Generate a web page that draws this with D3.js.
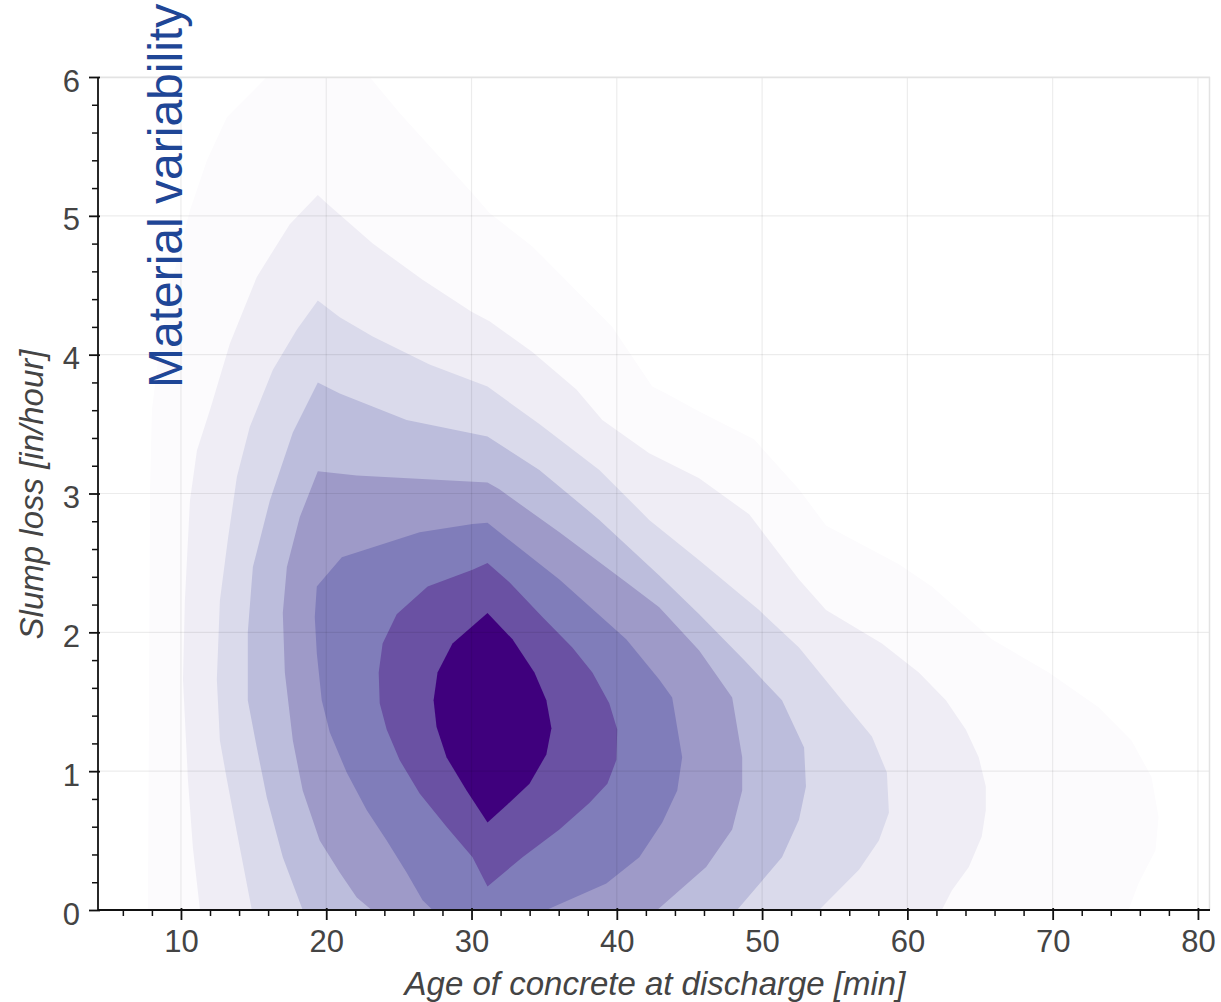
<!DOCTYPE html>
<html>
<head>
<meta charset="utf-8">
<script src="https://cdn.jsdelivr.net/npm/d3@7"></script>
<style>
  html, body { margin: 0; padding: 0; background: #fff; }
  svg { display: block; font-family: "Liberation Sans", Arial, Helvetica, sans-serif; }
</style>
</head>
<body>
<svg id="chart" width="1221" height="1002"></svg>
<script>
// ---------- data ----------
const xDomain = [4.29, 80.83];
const yDomain = [0, 6];
const xTicks = [10, 20, 30, 40, 50, 60, 70, 80];
const yTicks = [0, 1, 2, 3, 4, 5, 6];
const xMinorTicks = [6, 8, 12, 14, 16, 18, 22, 24, 26, 28, 32, 34, 36, 38, 42, 44, 46, 48, 52, 54, 56, 58, 62, 64, 66, 68, 72, 74, 76, 78];
const yMinorTicks = [0.2, 0.4, 0.6, 0.8, 1.2, 1.4, 1.6, 1.8, 2.2, 2.4, 2.6, 2.8, 3.2, 3.4, 3.6, 3.8, 4.2, 4.4, 4.6, 4.8, 5.2, 5.4, 5.6, 5.8];
const xLabel = "Age of concrete at discharge [min]";
const yLabel = "Slump loss [in/hour]";
const annotationText = "Material variability";
const annotationPos = [10.1, 3.76];
const levelColors = ["#fcfbfd", "#efedf5", "#dadaeb", "#bcbddc", "#9e9ac8", "#807dba", "#6a51a3", "#3f007d"];

// filled contour outlines, outermost (lowest density) first, in data units
const contourLevel1 = [[7.73,0],[7.87,3.0],[8.0,3.6],[8.56,4.08],[9.45,4.56],[10.62,5.04],[11.79,5.40],[13.16,5.71],[15.91,6.0],[17.5,6.2],[21.5,6.2],[22.99,6.0],[25.05,5.74],[30.0,5.17],[31.24,5.02],[34.19,4.78],[39.69,4.20],[42.44,3.77],[43.40,3.72],[45.67,3.59],[49.45,3.39],[52.54,3.03],[54.40,2.77],[59.42,2.49],[61.68,2.33],[65.81,1.95],[69.73,1.71],[73.16,1.46],[75.43,1.22],[76.80,0.96],[77.29,0.67],[77.08,0.43],[75.91,0.19],[75.22,0]];
const contourLevel2 = [[11.31,0],[10.82,0.45],[10.48,0.94],[10.14,1.66],[10.27,2.23],[10.62,2.95],[11.10,3.31],[11.99,3.60],[13.37,4.08],[15.22,4.56],[17.49,4.94],[19.42,5.15],[20.03,5.09],[23.20,4.80],[26.63,4.54],[30.0,4.31],[31.24,4.24],[34.19,4.02],[37.22,3.75],[39.0,3.53],[42.23,3.29],[45.67,3.11],[49.11,2.85],[52.54,2.38],[54.40,2.16],[58.25,1.92],[60.79,1.71],[62.65,1.51],[64.02,1.30],[64.91,1.10],[65.40,0.89],[65.40,0.72],[65.12,0.53],[64.23,0.31],[63.06,0.14],[62.37,0]];
const contourLevel3 = [[14.88,0],[14.05,0.45],[13.16,0.94],[12.68,1.22],[12.47,1.66],[12.68,2.23],[13.23,2.67],[13.85,3.12],[14.74,3.48],[16.32,3.89],[17.97,4.18],[19.42,4.39],[20.93,4.27],[23.20,4.13],[27.11,3.93],[31.10,3.77],[34.67,3.50],[38.80,3.17],[42.23,2.81],[45.67,2.52],[49.79,2.16],[52.54,1.89],[55.50,1.51],[57.56,1.25],[58.59,0.99],[58.73,0.70],[58.04,0.50],[56.67,0.29],[53.92,0]];
const contourLevel4 = [[18.38,0],[17.01,0.38],[15.91,0.81],[15.22,1.17],[14.60,1.51],[14.60,2.0],[14.95,2.47],[16.12,2.95],[17.70,3.44],[19.42,3.80],[20.93,3.72],[25.53,3.53],[31.10,3.41],[34.67,3.17],[38.80,2.81],[42.92,2.41],[45.67,2.13],[48.76,1.80],[51.37,1.51],[52.89,1.17],[53.02,0.89],[52.54,0.65],[51.37,0.38],[48.28,0]];
const contourLevel5 = [[23.13,0],[22.10,0.09],[20.93,0.27],[19.55,0.50],[18.38,0.86],[17.70,1.22],[17.15,1.71],[17.01,2.14],[17.29,2.47],[18.18,2.83],[19.42,3.16],[22.10,3.13],[31.10,3.08],[31.92,3.03],[36.05,2.72],[40.65,2.36],[42.92,2.18],[45.67,1.87],[47.94,1.53],[48.63,1.10],[48.63,0.86],[47.94,0.58],[46.15,0.31],[42.78,0]];
const contourLevel6 = [[27.32,0],[26.63,0.07],[25.53,0.27],[24.16,0.50],[22.78,0.72],[21.41,0.99],[20.24,1.28],[19.69,1.51],[19.35,1.85],[19.21,2.11],[19.35,2.33],[21.07,2.54],[26.43,2.72],[30.07,2.78],[31.10,2.79],[31.92,2.72],[36.05,2.38],[40.65,1.95],[42.92,1.66],[43.81,1.53],[44.50,1.10],[44.16,0.86],[43.13,0.63],[41.55,0.38],[39.28,0.19],[35.15,0]];
const contourLevel7 = [[31.10,2.50],[30.07,2.45],[26.98,2.33],[24.85,2.13],[23.88,1.92],[23.61,1.71],[23.68,1.49],[24.16,1.30],[25.05,1.08],[26.43,0.84],[28.28,0.60],[30.07,0.38],[31.10,0.17],[33.51,0.38],[36.05,0.58],[38.11,0.77],[39.35,0.91],[39.97,1.08],[40.03,1.30],[39.48,1.49],[38.32,1.71],[36.94,1.89],[34.88,2.11],[32.61,2.36]];
const contourLevel8 = [[31.10,2.14],[28.69,1.92],[27.66,1.71],[27.39,1.51],[27.59,1.32],[28.28,1.10],[29.66,0.86],[31.10,0.63],[32.47,0.76],[33.99,0.91],[35.15,1.12],[35.50,1.31],[35.15,1.51],[34.33,1.71],[32.82,1.95]];

const contourLevels = [contourLevel1, contourLevel2, contourLevel3, contourLevel4, contourLevel5, contourLevel6, contourLevel7, contourLevel8];

// ---------- layout ----------
const W = 1221, H = 1002;
const margin = { left: 98, top: 77, right: 11, bottom: 92 };
const pw = W - margin.left - margin.right;
const ph = H - margin.top - margin.bottom;

const svg = d3.select("#chart");
const x = d3.scaleLinear().domain(xDomain).range([0, pw]);
const y = d3.scaleLinear().domain(yDomain).range([ph, 0]);

const g = svg.append("g").attr("transform", `translate(${margin.left},${margin.top})`);

g.append("clipPath").attr("id", "plotclip")
  .append("rect").attr("x", 0).attr("y", 0).attr("width", pw).attr("height", ph);

// contour fills
const line = d3.line().x(d => x(d[0])).y(d => y(d[1])).curve(d3.curveLinearClosed);
g.append("g").attr("clip-path", "url(#plotclip)")
  .selectAll("path")
  .data(contourLevels)
  .join("path")
  .attr("d", d => line(d))
  .attr("fill", (d, i) => levelColors[i])
  .attr("stroke", "none");

// grid on top
const grid = g.append("g").attr("class", "grid");
grid.selectAll("line.gx").data(xTicks).join("line")
  .attr("x1", d => x(d)).attr("x2", d => x(d))
  .attr("y1", 0).attr("y2", ph)
  .attr("stroke", "#000").attr("stroke-opacity", 0.075).attr("stroke-width", 1.2);
grid.selectAll("line.gy").data(yTicks.filter(v => v > 0)).join("line")
  .attr("x1", 0).attr("x2", pw)
  .attr("y1", d => y(d)).attr("y2", d => y(d))
  .attr("stroke", "#000").attr("stroke-opacity", 0.075).attr("stroke-width", 1.2);

// outline (top & right)
g.append("path")
  .attr("d", `M0,0.5H${pw - 0.5}V${ph}`)
  .attr("fill", "none").attr("stroke", "#e3e3e3").attr("stroke-width", 1.5);

// annotation
g.append("text")
  .attr("transform", `translate(${x(annotationPos[0])},${y(annotationPos[1])}) rotate(-90)`)
  .attr("font-size", 48)
  .attr("fill", "#1f4696")
  .text(annotationText);

// ---------- axes ----------
const tickFont = 31;
const xAxisG = g.append("g").attr("transform", `translate(0,${ph})`)
  .call(d3.axisBottom(x).tickValues(xTicks).tickSizeInner(10).tickSizeOuter(0).tickPadding(0).tickFormat(d3.format("d")));
xAxisG.select(".domain").remove();
xAxisG.selectAll(".tick line").attr("y1", -2).attr("stroke", "#111").attr("stroke-width", 1.8);
xAxisG.selectAll(".tick text").attr("y", 42).attr("dy", 0)
  .attr("font-size", tickFont).attr("fill", "#444").attr("font-family", "'Liberation Sans', Arial, sans-serif");

const xMinorG = g.append("g").attr("transform", `translate(0,${ph})`)
  .call(d3.axisBottom(x).tickValues(xMinorTicks).tickSizeInner(6).tickSizeOuter(0).tickFormat(""));
xMinorG.select(".domain").remove();
xMinorG.selectAll(".tick line").attr("stroke", "#111").attr("stroke-width", 1.5);

const yAxisG = g.append("g")
  .call(d3.axisLeft(y).tickValues(yTicks).tickSizeInner(9).tickSizeOuter(0).tickPadding(0).tickFormat(d3.format("d")));
yAxisG.select(".domain").remove();
yAxisG.selectAll(".tick line").attr("x1", 2).attr("stroke", "#111").attr("stroke-width", 1.8);
yAxisG.selectAll(".tick text").attr("x", -18).attr("dy", 0).attr("y", 14)
  .attr("font-size", tickFont).attr("fill", "#444").attr("font-family", "'Liberation Sans', Arial, sans-serif");

const yMinorG = g.append("g")
  .call(d3.axisLeft(y).tickValues(yMinorTicks).tickSizeInner(6).tickSizeOuter(0).tickFormat(""));
yMinorG.select(".domain").remove();
yMinorG.selectAll(".tick line").attr("stroke", "#111").attr("stroke-width", 1.5);

// axis lines
g.append("line").attr("x1", 0).attr("x2", pw).attr("y1", ph).attr("y2", ph)
  .attr("stroke", "#111").attr("stroke-width", 1.8);
g.append("line").attr("x1", 0).attr("x2", 0).attr("y1", 0).attr("y2", ph)
  .attr("stroke", "#111").attr("stroke-width", 1.8);

// axis labels
svg.append("text")
  .attr("x", margin.left + (x(xDomain[0]) + x(xDomain[1])) / 2 + 1)
  .attr("y", 995)
  .attr("text-anchor", "middle")
  .attr("font-size", 33).attr("font-style", "italic").attr("fill", "#444")
  .text(xLabel);

svg.append("text")
  .attr("transform", `translate(43,${margin.top + ph / 2 + 1}) rotate(-90)`)
  .attr("text-anchor", "middle")
  .attr("font-size", 33).attr("font-style", "italic").attr("fill", "#444")
  .text(yLabel);
</script>
</body>
</html>
